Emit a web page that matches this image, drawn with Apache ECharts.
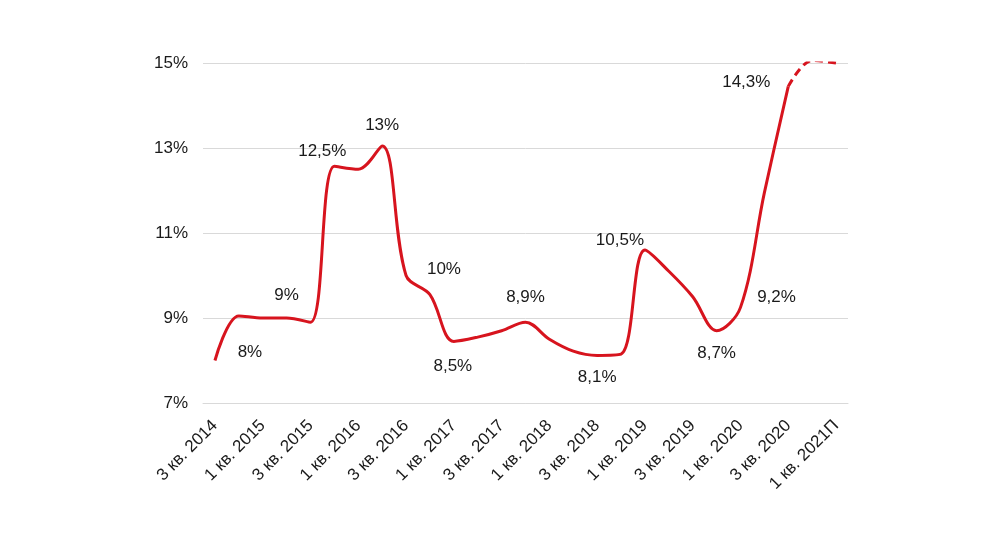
<!DOCTYPE html>
<html>
<head>
<meta charset="utf-8">
<script src="https://cdn.jsdelivr.net/npm/echarts@6/dist/echarts.min.js"></script>
<style>
html, body { margin: 0; padding: 0; background: #ffffff; }
#chart { width: 1000px; height: 554px; }
</style>
</head>
<body>
<div id="chart"></div>
<script>
// quarters, labels shown every other one
var quarters = [
  '3 кв. 2014', '4 кв. 2014', '1 кв. 2015', '2 кв. 2015', '3 кв. 2015', '4 кв. 2015',
  '1 кв. 2016', '2 кв. 2016', '3 кв. 2016', '4 кв. 2016', '1 кв. 2017', '2 кв. 2017',
  '3 кв. 2017', '4 кв. 2017', '1 кв. 2018', '2 кв. 2018', '3 кв. 2018', '4 кв. 2018',
  '1 кв. 2019', '2 кв. 2019', '3 кв. 2019', '4 кв. 2019', '1 кв. 2020', '2 кв. 2020',
  '3 кв. 2020', '4 кв. 2020', '1 кв. 2021П'
]
// actual values (solid line)
var actual = [
  8.0, 9.05, 9.0, 9.0, 8.9, 12.57, 12.5, 13.05, 10.0, 9.55, 8.45, 8.55, 8.7, 8.9,
  8.5, 8.22, 8.12, 8.15, 10.6, 10.1, 9.5, 8.7, 9.25, 11.95, 14.45, null, null
]
// forecast (dashed line)
var forecast = [
  null, null, null, null, null, null, null, null, null, null, null, null, null, null,
  null, null, null, null, null, null, null, null, null, null, 14.45, 15.06, 15.0
]
// text annotations: point index -> text
var noteIdx = [0, 3, 6, 7, 9, 10, 13, 16, 18, 21, 22, 24]
var noteText = ['8%', '9%', '12,5%', '13%', '10%', '8,5%', '8,9%', '8,1%', '10,5%', '8,7%', '9,2%', '14,3%']
var noteShift = [[35, -8], [0, -23], [-36, -18], [0, -21], [14, -25], [-1, 25], [0, -25], [0, 22], [-25, -10], [0, 23], [36, -10], [-42, -4]]

var red = '#d7141e'
var font = 'Liberation Sans, Arial, sans-serif'

var solidData = actual.map(function (v, i) {
  var k = noteIdx.indexOf(i)
  if (k < 0) return v
  return {
    value: v,
    label: {
      show: true,
      position: 'inside',
      offset: noteShift[k],
      formatter: noteText[k],
      color: '#1a1a1a',
      fontSize: 17,
      fontFamily: font
    }
  }
})

var chart = echarts.init(document.getElementById('chart'))
chart.setOption({
  animation: false,
  backgroundColor: '#ffffff',
  grid: { left: 203, right: 152, top: 63, bottom: 151 },
  xAxis: {
    type: 'category',
    data: quarters,
    boundaryGap: true,
    axisLine: { show: true, lineStyle: { color: '#d9d9d9' } },
    axisTick: { show: false },
    axisLabel: {
      interval: 1,
      rotate: 45,
      margin: 20,
      color: '#1a1a1a',
      fontSize: 17,
      fontFamily: font
    }
  },
  yAxis: {
    type: 'value',
    min: 7,
    max: 15,
    interval: 2,
    axisLine: { show: false },
    axisTick: { show: false },
    splitLine: { lineStyle: { color: '#d9d9d9', width: 1 } },
    axisLabel: {
      formatter: '{value}%',
      margin: 15,
      color: '#1a1a1a',
      fontSize: 17,
      fontFamily: font
    }
  },
  series: [
    {
      type: 'line',
      data: solidData,
      smooth: 0.35,
      showSymbol: true,
      symbol: 'circle',
      symbolSize: 0,
      lineStyle: { color: red, width: 3 },
      itemStyle: { color: red },
      label: { show: false },
      z: 3
    },
    {
      type: 'line',
      data: forecast,
      smooth: 0.35,
      showSymbol: false,
      symbol: 'none',
      lineStyle: { color: red, width: 3, type: [8, 5] },
      z: 2
    }
  ]
})
</script>
</body>
</html>
